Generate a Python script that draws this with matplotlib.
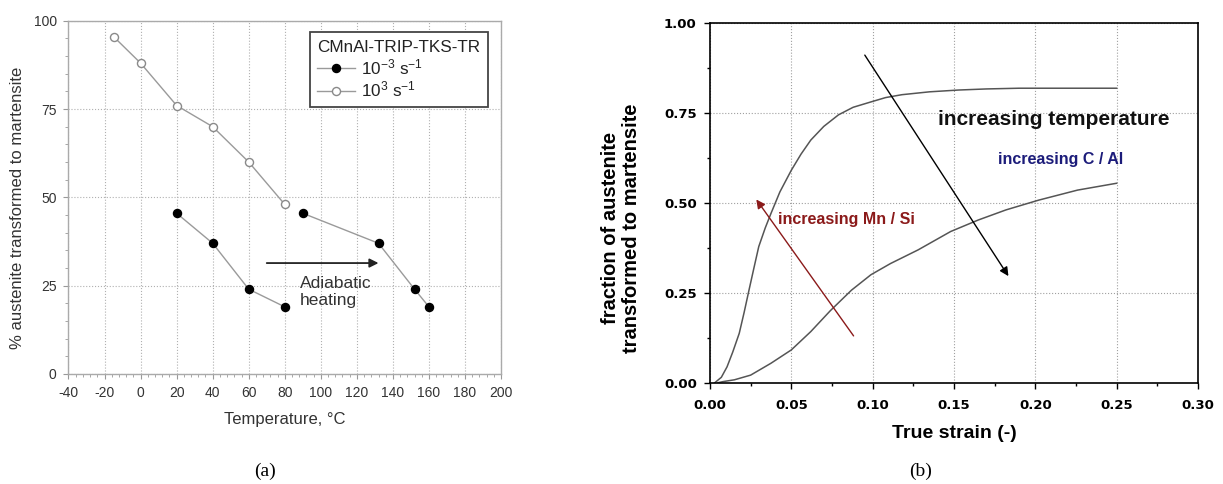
import matplotlib
matplotlib.use("Agg")
import matplotlib.pyplot as plt
from matplotlib.ticker import MultipleLocator, FormatStrFormatter
from matplotlib.lines import Line2D

plt.rcParams['font.family'] = ['Liberation Sans', 'DejaVu Sans']
plt.rcParams['mathtext.fontset'] = 'custom'
plt.rcParams['mathtext.rm'] = 'Liberation Sans'
plt.rcParams['mathtext.it'] = 'Liberation Sans:italic'
plt.rcParams['mathtext.bf'] = 'Liberation Sans:bold'
plt.rcParams['axes.unicode_minus'] = False

# (a) martensite fraction vs test temperature
fast_temp = [-15, 0, 20, 40, 60, 80]
fast_aust = [95.5, 88, 76, 70, 60, 48]
slow_temp_iso = [20, 40, 60, 80]
slow_aust_iso = [45.5, 37, 24, 19]
slow_temp_heated = [90, 132, 152, 160]
slow_aust_heated = [45.5, 37, 24, 19]
legend_title = "CMnAl-TRIP-TKS-TR"
slow_label = r"10$^{-3}$ s$^{-1}$"
fast_label = r"10$^{3}$ s$^{-1}$"

# (b) transformation curves vs true strain
upper_strain = [0.003, 0.007, 0.0105, 0.014, 0.018, 0.021, 0.024, 0.027, 0.030,
                0.034, 0.0375, 0.043, 0.050, 0.056, 0.062, 0.070, 0.079, 0.088,
                0.099, 0.108, 0.118, 0.135, 0.153, 0.170, 0.190, 0.220, 0.250]
upper_frac = [0.0, 0.015, 0.044, 0.085, 0.137, 0.195, 0.257, 0.318, 0.378,
              0.430, 0.470, 0.530, 0.590, 0.635, 0.674, 0.712, 0.744, 0.765,
              0.780, 0.792, 0.800, 0.808, 0.813, 0.816, 0.818, 0.818, 0.818]
lower_strain = [0.005, 0.008, 0.015, 0.025, 0.0375, 0.050, 0.062, 0.074, 0.087,
                0.099, 0.111, 0.128, 0.148, 0.165, 0.182, 0.202, 0.226, 0.250]
lower_frac = [0.0, 0.003, 0.008, 0.021, 0.054, 0.091, 0.142, 0.200, 0.257,
              0.300, 0.331, 0.369, 0.420, 0.452, 0.480, 0.507, 0.535, 0.554]

fig = plt.figure(figsize=(12.23, 4.84), dpi=100)
ax1 = fig.add_axes([0.0560, 0.2273, 0.3537, 0.7299])
ax2 = fig.add_axes([0.5805, 0.2093, 0.3990, 0.7438])

# ---- panel (a) ----
line_grey = '#9a9a9a'
ax1.plot(slow_temp_iso, slow_aust_iso, '-o', color=line_grey, lw=1.0,
         mfc='black', mec='black', ms=5.8, zorder=3)
ax1.plot(slow_temp_heated, slow_aust_heated, '-o', color=line_grey, lw=1.0,
         mfc='black', mec='black', ms=5.8, zorder=3)
ax1.plot(fast_temp, fast_aust, '-o', color=line_grey, lw=1.0,
         mfc='white', mec='#8a8a8a', mew=1.0, ms=5.8, zorder=3)

ax1.set_xlim(-40, 200)
ax1.set_ylim(0, 100)
ax1.xaxis.set_major_locator(MultipleLocator(20))
ax1.xaxis.set_minor_locator(MultipleLocator(4))
ax1.yaxis.set_major_locator(MultipleLocator(25))
ax1.yaxis.set_minor_locator(MultipleLocator(5))
ax1.grid(True, which='major', ls=':', color='#b0b0b0', lw=0.8)
for s in ax1.spines.values():
    s.set_color('#aaaaaa')
    s.set_linewidth(1.0)
ax1.tick_params(which='both', direction='out', color='#999999', labelcolor='#333333',
                labelsize=10, pad=5)
ax1.tick_params(which='major', length=3.5)
ax1.tick_params(which='minor', length=2)

ax1.set_xlabel("Temperature, \u00b0C", fontsize=12, color='#333333')
ax1.xaxis.set_label_coords(0.5, -0.13)
ax1.xaxis.label.set_va('center')
ax1.set_ylabel("% austenite transformed to martensite", fontsize=12, color='#333333')
ax1.yaxis.set_label_coords(-0.117, 0.471)
ax1.yaxis.label.set_va('center')

ax1.annotate("", xy=(132, 31.4), xytext=(70, 31.4),
             arrowprops=dict(arrowstyle='-|>', color='#222222', lw=1.3,
                             mutation_scale=13, shrinkA=0, shrinkB=0))
ax1.text(88.5, 23.3, "Adiabatic\nheating", fontsize=12.5, color='#333333',
         ha='left', va='center', linespacing=1.15)

handles = [
    Line2D([], [], color=line_grey, lw=1.0, marker='o', mfc='black', mec='black', ms=5.8),
    Line2D([], [], color=line_grey, lw=1.0, marker='o', mfc='white', mec='#8a8a8a', ms=5.8),
]
leg = ax1.legend(handles, [slow_label, fast_label], title=legend_title,
                 loc='upper right', bbox_to_anchor=(0.97, 0.968), borderaxespad=0,
                 fontsize=12.3, title_fontsize=12.3, fancybox=False, framealpha=1,
                 edgecolor='#444444', handlelength=2.2, handletextpad=0.35,
                 labelspacing=0.15, borderpad=0.45)
leg.get_frame().set_linewidth(1.3)
for t in leg.get_texts():
    t.set_color('#222222')
leg.get_title().set_color('#222222')
leg._legend_box.align = 'left'

# ---- panel (b) ----
curve_col = '#555555'
ax2.plot(upper_strain, upper_frac, color=curve_col, lw=1.1)
ax2.plot(lower_strain, lower_frac, color=curve_col, lw=1.1)

ax2.set_xlim(0, 0.30)
ax2.set_ylim(0, 1.0)
ax2.xaxis.set_major_locator(MultipleLocator(0.05))
ax2.xaxis.set_minor_locator(MultipleLocator(0.025))
ax2.yaxis.set_major_locator(MultipleLocator(0.25))
ax2.yaxis.set_minor_locator(MultipleLocator(0.125))
ax2.xaxis.set_major_formatter(FormatStrFormatter('%.2f'))
ax2.yaxis.set_major_formatter(FormatStrFormatter('%.2f'))
ax2.grid(True, which='major', ls=':', color='#a0a0a0', lw=0.8)
for s in ax2.spines.values():
    s.set_color('black')
    s.set_linewidth(1.2)
ax2.tick_params(which='both', direction='out', color='black', width=1.0)
ax2.tick_params(which='major', length=4.5)
ax2.tick_params(which='minor', length=2.5)
ax2.tick_params(axis='x', pad=7)
ax2.tick_params(axis='y', pad=5)
for lbl in ax2.get_xticklabels() + ax2.get_yticklabels():
    lbl.set_family('DejaVu Sans')
    lbl.set_fontweight('bold')
    lbl.set_fontsize(9.5)

ax2.set_xlabel("True strain (-)", fontsize=14, fontweight='bold')
ax2.xaxis.set_label_coords(0.5, -0.14)
ax2.xaxis.label.set_va('center')
ax2.set_ylabel("fraction of austenite\ntransformed to martensite", fontsize=14.5,
               fontweight='bold', linespacing=1.15)
ax2.yaxis.set_label_coords(-0.182, 0.43)
ax2.yaxis.label.set_va('center')

ax2.annotate("", xy=(0.1835, 0.296), xytext=(0.0952, 0.910),
             arrowprops=dict(arrowstyle='-|>', color='black', lw=1.0,
                             mutation_scale=13, shrinkA=0, shrinkB=0))
ax2.annotate("", xy=(0.0285, 0.509), xytext=(0.0883, 0.13),
             arrowprops=dict(arrowstyle='-|>', color='#8b1a1a', lw=1.0,
                             mutation_scale=13, shrinkA=0, shrinkB=0))
ax2.text(0.140, 0.732, "increasing temperature", fontsize=15, fontweight='bold',
         color='#111111', ha='left', va='center')
ax2.text(0.177, 0.620, "increasing C / Al", fontsize=11.5, fontweight='bold',
         color='#1c1c7a', ha='left', va='center')
ax2.text(0.0417, 0.452, "increasing Mn / Si", fontsize=11.5, fontweight='bold',
         color='#8b1a1a', ha='left', va='center')

# panel captions
fig.text(265 / 1223, 1 - 471 / 484, "(a)", family='Liberation Serif', fontsize=14,
         ha='center', va='center')
fig.text(921 / 1223, 1 - 471 / 484, "(b)", family='Liberation Serif', fontsize=14,
         ha='center', va='center')

fig.savefig("out.png", dpi=100)
